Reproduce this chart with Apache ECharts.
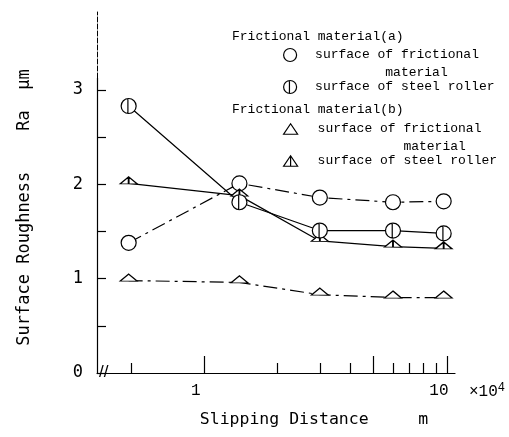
<!DOCTYPE html>
<html lang="en">
<head>
<meta charset="UTF-8">
<title>Surface Roughness vs Slipping Distance</title>
<script src="https://cdn.jsdelivr.net/npm/echarts@6/dist/echarts.min.js"></script>
<style>html,body{margin:0;padding:0;background:#fff}</style>
</head>
<body>
<div id="main" style="width:509px;height:437px"></div>
<script type="text/javascript">
// slipping distance, x10^4 m
var distance = [0.49, 1.4, 3.0, 6.0, 9.7];
// Ra, um
var fricA = [1.38, 2.01, 1.86, 1.81, 1.82];
var rollerA = [2.83, 1.81, 1.51, 1.51, 1.48];
var fricB = [0.98, 0.96, 0.83, 0.80, 0.80];
var rollerB = [2.01, 1.88, 1.40, 1.34, 1.32];

var xMajorTicks = [1, 5, 10];
var xMinorTicks = [0.5, 2, 3, 4, 6, 7, 8, 9];
var xLabels = [1, 10];
var yTicks = [0, 0.5, 1, 1.5, 2, 2.5, 3];
var yLabels = [0, 1, 2, 3];

var circlePath = 'path://M10,0A10,10 0 1 1 10,20A10,10 0 1 1 10,0Z';
var circleBarPath = 'path://M10,0A10,10 0 1 1 10,20A10,10 0 1 1 10,0ZM9,0L9,20';
var triPath = 'path://M8,0L16,7L0,7Z';
var triBarPath = 'path://M8,0L16,7L0,7ZM8,0L8,7';
var triLegendPath = 'path://M6,0L12,9L0,9Z';
var triBarLegendPath = 'path://M6,0L12,9L0,9ZM6,0L6,9';

var sansMono = '"DejaVu Sans Mono", monospace';
var mono = '"Liberation Mono", "DejaVu Sans Mono", monospace';

function pairs(vals) {
    return distance.map(function (d, i) { return [d, vals[i]]; });
}

var dashDot = [14, 5, 3, 5];
var markStyle = {color: '#fff', borderColor: '#000', borderWidth: 1.2};

function makeSeries(name, vals, symbol, size, offset, dashed) {
    return {
        name: name,
        type: 'line',
        xAxisIndex: 0,
        yAxisIndex: 0,
        data: pairs(vals),
        symbol: symbol,
        symbolSize: size,
        symbolOffset: offset,
        showAllSymbol: true,
        itemStyle: markStyle,
        lineStyle: {color: '#000', width: 1.2, type: dashed ? dashDot : 'solid'},
        emphasis: {disabled: true},
        silent: true
    };
}

// blank first line keeps the icon level with the first written line
var labels = {
    'surface of frictional material (a)': ' \nsurface of frictional\n         material',
    'surface of steel roller (a)': 'surface of steel roller',
    'surface of frictional material (b)': ' \nsurface of frictional\n           material',
    'surface of steel roller (b)': 'surface of steel roller'
};

var legendText = {fontFamily: mono, fontSize: 13, color: '#000', lineHeight: 18};

var myChart = echarts.init(document.getElementById('main'));
myChart.setOption({
    animation: false,
    backgroundColor: '#fff',
    title: [
        {text: 'Frictional material(a)', left: 232, top: 30, padding: 0,
            textStyle: {fontFamily: mono, fontSize: 13, fontWeight: 'normal', color: '#000'}},
        {text: 'Frictional material(b)', left: 232, top: 103, padding: 0,
            textStyle: {fontFamily: mono, fontSize: 13, fontWeight: 'normal', color: '#000'}}
    ],
    legend: [
        {
            left: 283, top: 28, padding: 0, orient: 'vertical', itemGap: -4,
            itemWidth: 14, itemHeight: 13, selectedMode: false,
            itemStyle: markStyle, textStyle: legendText,
            formatter: function (n) { return labels[n]; },
            data: [
                {name: 'surface of frictional material (a)', icon: circlePath,
                    textStyle: {padding: [0, 0, 0, 13]}},
                {name: 'surface of steel roller (a)', icon: circleBarPath,
                    textStyle: {padding: [0, 0, 0, 13]}}
            ]
        },
        {
            left: 283, top: 102, padding: 0, orient: 'vertical', itemGap: -4,
            itemWidth: 14, itemHeight: 13, selectedMode: false,
            itemStyle: markStyle, textStyle: legendText,
            formatter: function (n) { return labels[n]; },
            data: [
                {name: 'surface of frictional material (b)', icon: triLegendPath,
                    textStyle: {padding: [0, 0, 0, 15]}},
                {name: 'surface of steel roller (b)', icon: triBarLegendPath,
                    textStyle: {padding: [0, 0, 0, 15]}}
            ]
        }
    ],
    grid: [
        {left: 97, right: 54, top: 78, bottom: 64},
        {left: 97, right: 54, top: 12, height: 66}
    ],
    xAxis: [
        {
            type: 'log', gridIndex: 0, position: 'bottom', min: 0.363, max: 10.8,
            axisLine: {lineStyle: {color: '#000', width: 1.2}},
            axisTick: {inside: true, length: 17, customValues: xMajorTicks,
                lineStyle: {color: '#000', width: 1.2}},
            axisLabel: {customValues: xLabels, margin: 10, color: '#000',
                fontFamily: mono, fontSize: 16, padding: [0, 16, 0, 0]},
            splitLine: {show: false},
            name: 'Slipping Distance     m', nameLocation: 'middle', nameGap: 38,
            nameTextStyle: {fontFamily: sansMono, fontSize: 16.5, color: '#000',
                padding: [0, 0, 0, 76]}
        },
        {
            type: 'log', gridIndex: 0, position: 'bottom', offset: 0, min: 0.363, max: 10.8,
            axisLine: {show: false},
            axisTick: {inside: true, length: 10, customValues: xMinorTicks,
                lineStyle: {color: '#000', width: 1.2}},
            axisLabel: {show: false},
            splitLine: {show: false},
            name: '×10{sup|4}', nameLocation: 'end', nameGap: 14,
            nameTextStyle: {fontFamily: mono, fontSize: 16, color: '#000',
                verticalAlign: 'top', padding: [9, 0, 0, 0],
                rich: {sup: {fontFamily: mono, fontSize: 12, verticalAlign: 'top', padding: [0, 0, 8, 0]}}}
        },
        {
            type: 'value', gridIndex: 1, show: false
        }
    ],
    yAxis: [
        {
            type: 'value', gridIndex: 0, min: 0, max: 3.127,
            axisLine: {show: true, lineStyle: {color: '#000', width: 1.2}},
            axisTick: {show: true, inside: true, length: 9, customValues: yTicks,
                lineStyle: {color: '#000', width: 1.2}},
            axisLabel: {customValues: yLabels, margin: 14, color: '#000',
                fontFamily: sansMono, fontSize: 17},
            splitLine: {show: false},
            name: 'Surface Roughness    Ra  μm', nameLocation: 'middle', nameGap: 64,
            nameTextStyle: {fontFamily: sansMono, fontSize: 17, color: '#000', padding: [0, 0, 0, 36]}
        },
        {
            type: 'value', gridIndex: 1, min: 0, max: 1,
            axisLine: {show: true, lineStyle: {color: '#000', width: 1, type: [5, 2]}},
            axisTick: {show: false}, axisLabel: {show: false}, splitLine: {show: false}
        }
    ],
    graphic: [
        {type: 'text', left: 99, top: 364, silent: true,
            style: {text: '//', font: '17px "Liberation Sans"', fill: '#000',
                backgroundColor: '#fff'}}
    ],
    series: [
        makeSeries('surface of frictional material (a)', fricA, circlePath, 15, [0, 0], true),
        makeSeries('surface of frictional material (b)', fricB, triPath, [17, 7], [0, -3], true),
        makeSeries('surface of steel roller (b)', rollerB, triBarPath, [17, 7], [0, -3], false),
        makeSeries('surface of steel roller (a)', rollerA, circleBarPath, 15, [0, 0], false)
    ]
});
</script>
</body>
</html>
